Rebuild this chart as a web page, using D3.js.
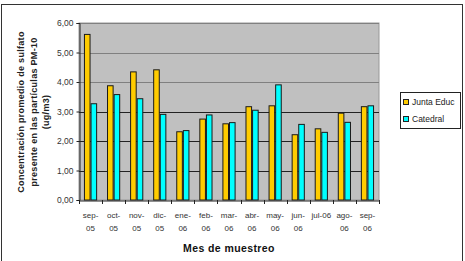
<!DOCTYPE html>
<html>
<head>
<meta charset="utf-8">
<script src="https://cdn.jsdelivr.net/npm/d3@7"></script>
<style>
  body { margin: 0; background: #fff; }
  svg { display: block; font-family: Arial, "Liberation Sans", sans-serif; }
</style>
</head>
<body>
<div id="chart"></div>
<script>
// --- Data ---
const monthLabels = [["sep-", "05"], ["oct-", "05"], ["nov-", "05"], ["dic-", "05"],
                     ["ene-", "06"], ["feb-", "06"], ["mar-", "06"], ["abr-", "06"],
                     ["may-", "06"], ["jun-", "06"], ["jul-06"], ["ago-", "06"], ["sep-", "06"]];
const seriesNames = ["Junta Educ", "Catedral"];
const juntaValues = [5.63, 3.89, 4.36, 4.43, 2.33, 2.76, 2.60, 3.18, 3.21, 2.23, 2.43, 2.96, 3.18];
const catedralValues = [3.28, 3.59, 3.45, 2.92, 2.37, 2.90, 2.64, 3.06, 3.92, 2.58, 2.31, 2.65, 3.21];
const yTicks = [0, 1, 2, 3, 4, 5, 6];

const cats = monthLabels.map(d => d.join(""));
const colors = ["#FFCC00", "#00FFFF"];

// --- Layout ---
const width = 465, height = 261;
const plot = { left: 79, right: 379, top: 23, bottom: 200 };

const svg = d3.select("#chart").append("svg")
    .attr("width", width)
    .attr("height", height);

// chart area border
svg.append("rect")
    .attr("x", 1.5).attr("y", 4.5)
    .attr("width", 461).attr("height", 270)
    .attr("fill", "#fff")
    .attr("stroke", "#333")
    .attr("stroke-width", 1);

const x = d3.scaleBand()
    .domain(cats)
    .range([plot.left, plot.right])
    .paddingInner(0);

const y = d3.scaleLinear()
    .domain([0, 6])
    .range([plot.bottom, plot.top]);

// Excel-style gap width 150%
const inner = d3.scaleBand()
    .domain(seriesNames)
    .range([0, x.bandwidth()])
    .paddingInner(0)
    .paddingOuter(0.75);

// plot background
svg.append("rect")
    .attr("x", plot.left).attr("y", plot.top)
    .attr("width", plot.right - plot.left)
    .attr("height", plot.bottom - plot.top)
    .attr("fill", "#C0C0C0")
    .attr("stroke", "#999")
    .attr("stroke-width", 1);

// gridlines
svg.append("g")
    .selectAll("line")
    .data(yTicks.filter(d => d > 0))
    .join("line")
    .attr("x1", plot.left).attr("x2", plot.right)
    .attr("y1", d => Math.round(y(d)) + 0.5)
    .attr("y2", d => Math.round(y(d)) + 0.5)
    .attr("stroke", d => d <= 3 ? "#222" : "#808080")
    .attr("stroke-width", 1);

// bars
const series = [juntaValues, catedralValues];
series.forEach((vals, s) => {
    svg.append("g")
        .selectAll("rect")
        .data(vals)
        .join("rect")
        .attr("x", (d, i) => x(cats[i]) + inner(seriesNames[s]) + 0.5)
        .attr("y", d => y(d) + 0.5)
        .attr("width", inner.bandwidth() - 1)
        .attr("height", d => y(0) - y(d) - 0.5)
        .attr("fill", colors[s])
        .attr("stroke", "#1a1a1a")
        .attr("stroke-width", 1);
});

// y axis
const yAxis = svg.append("g")
    .attr("transform", `translate(${plot.left + 0.5},0)`)
    .call(d3.axisLeft(y).tickValues(yTicks).tickSize(3)
        .tickFormat(d => d3.format(".2f")(d).replace(".", ",")));
yAxis.select(".domain").attr("stroke", "#222");
yAxis.selectAll(".tick line").attr("stroke", "#222");
yAxis.selectAll(".tick text")
    .attr("x", -6)
    .attr("fill", "#333")
    .style("font-size", "8.5px");

// x axis
const xAxis = svg.append("g")
    .attr("transform", `translate(0,${plot.bottom + 0.5})`)
    .call(d3.axisBottom(x).tickSize(0).tickFormat(""));
xAxis.select(".domain").attr("stroke", "#222");
xAxis.selectAll(".tick").remove();

// tick marks between categories
svg.append("g")
    .selectAll("line")
    .data(cats.concat(["end"]))
    .join("line")
    .attr("x1", (d, i) => Math.round(plot.left + i * x.bandwidth()) + 0.5)
    .attr("x2", (d, i) => Math.round(plot.left + i * x.bandwidth()) + 0.5)
    .attr("y1", plot.bottom)
    .attr("y2", plot.bottom + 4)
    .attr("stroke", "#222");

const labels = svg.append("g")
    .selectAll("text")
    .data(monthLabels)
    .join("text")
    .attr("x", (d, i) => x(cats[i]) + x.bandwidth() / 2)
    .attr("y", 218)
    .attr("text-anchor", "middle")
    .attr("fill", "#333")
    .style("font-size", "8px");
labels.selectAll("tspan")
    .data(d => d)
    .join("tspan")
    .attr("x", function () { return d3.select(this.parentNode).attr("x"); })
    .attr("dy", (d, i) => i === 0 ? 0 : 13)
    .text(d => d);

// axis titles
svg.append("text")
    .attr("x", 229).attr("y", 252)
    .attr("text-anchor", "middle")
    .style("font-size", "10.5px")
    .style("font-weight", "bold")
    .style("letter-spacing", "0.4px")
    .attr("fill", "#111")
    .text("Mes de muestreo");

const yTitle = ["Concentración promedio de sulfato", "presente en las partículas PM-10", "(ug/m3)"];
svg.append("g")
    .attr("transform", "translate(24,112) rotate(-90)")
    .selectAll("text")
    .data(yTitle)
    .join("text")
    .attr("x", 0)
    .attr("y", (d, i) => i * 12.5)
    .attr("text-anchor", "middle")
    .style("font-size", "9px")
    .style("font-weight", "bold")
    .style("letter-spacing", "0.3px")
    .attr("fill", "#222")
    .text(d => d);

// legend
const legend = svg.append("g");
legend.append("rect")
    .attr("x", 400.5).attr("y", 92.5)
    .attr("width", 60).attr("height", 36)
    .attr("fill", "#fff")
    .attr("stroke", "#222");
const items = legend.selectAll("g.item")
    .data(seriesNames)
    .join("g")
    .attr("class", "item")
    .attr("transform", (d, i) => `translate(403,${99 + i * 17})`);
items.append("rect")
    .attr("x", 0.5).attr("y", 0.5)
    .attr("width", 5).attr("height", 5)
    .attr("fill", (d, i) => colors[i])
    .attr("stroke", "#222");
items.append("text")
    .attr("x", 9).attr("y", 6)
    .style("font-size", "8.5px")
    .attr("fill", "#222")
    .text(d => d);
</script>
</body>
</html>
